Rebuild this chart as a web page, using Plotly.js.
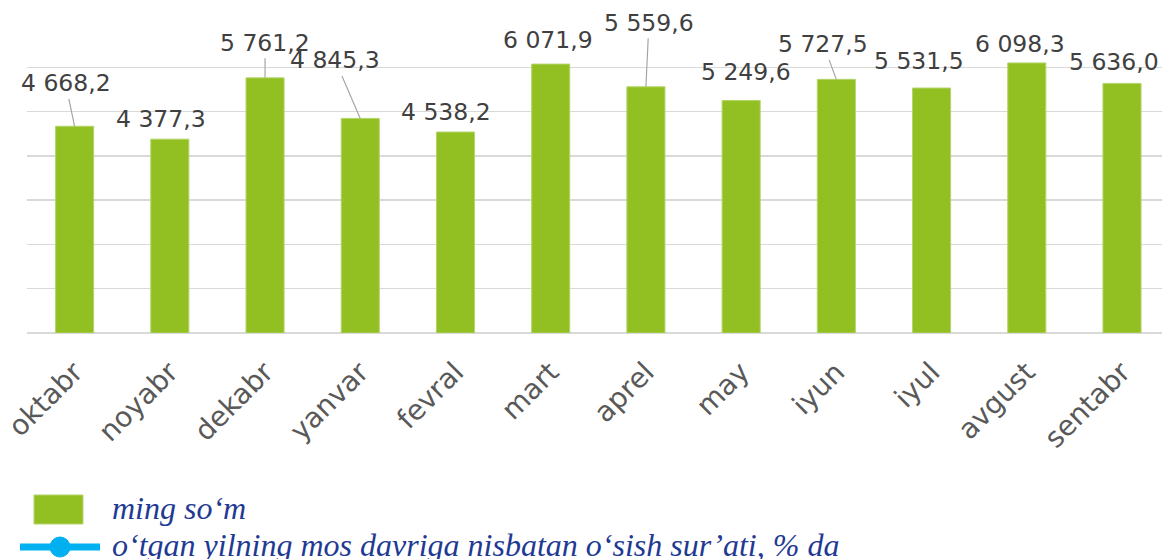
<!DOCTYPE html>
<html>
<head>
<meta charset="utf-8">
<script src="https://cdn.plot.ly/plotly-3.0.1.min.js"></script>
<style>html,body{margin:0;padding:0;overflow:hidden;background:#fff}</style>
</head>
<body>
<div id="chart" style="width:1162px;height:559px"></div>
<script>
// ---- data ----
const months = ["oktabr","noyabr","dekabr","yanvar","fevral","mart","aprel","may","iyun","iyul","avgust","sentabr"];
const amounts = [4668.2, 4377.3, 5761.2, 4845.3, 4538.2, 6071.9, 5559.6, 5249.6, 5727.5, 5531.5, 6098.3, 5636.0];
const valueLabels = ["4 668,2","4 377,3","5 761,2","4 845,3","4 538,2","6 071,9","5 559,6","5 249,6","5 727,5","5 531,5","6 098,3","5 636,0"];
const seriesNames = ["ming so‘m", "o‘tgan yilning mos davriga nisbatan o‘sish sur’ati, % da"];

// ---- label placement (pixel offsets from bar top) ----
const labelDX = [-9, -9, 0, -25, -9, -3, 3, 5, -13, -13, -7, -8];
const labelDY = [-43, -20, -35, -58, -20, -24, -64, -29, -35, -27, -19, -21];
const leader  = [true, false, true, true, false, false, true, false, true, false, false, false];

const W = 1162, H = 559;
const M = {l: 27, r: 0, t: 23, b: 226};
const plotW = W - M.l - M.r, plotH = H - M.t - M.b;
const px = x => (x - M.l) / plotW;
const py = y => (H - M.b - y) / plotH;

const bars = {
  type: 'bar',
  x: months,
  y: amounts,
  name: seriesNames[0],
  marker: {color: '#92C022', line: {color: '#B3D56A', width: 1}},
  showlegend: false,
  hoverinfo: 'x+y'
};

const annotations = months.map((m, i) => ({
  x: m, y: amounts[i], xref: 'x', yref: 'y',
  text: valueLabels[i],
  showarrow: true, arrowhead: 0, arrowwidth: 1.2,
  arrowcolor: leader[i] ? '#A6A6A6' : 'rgba(0,0,0,0)',
  ax: labelDX[i], ay: labelDY[i],
  font: {family: 'DejaVu Sans', size: 23.5, color: '#404040'}
}));

// custom legend
const legendFont = {family: 'Liberation Serif', size: 32, color: '#1F3A93', style: 'italic'};
annotations.push({
  xref: 'paper', yref: 'paper', x: px(110), y: py(508), xanchor: 'left', yanchor: 'middle',
  text: '<i>' + seriesNames[0] + '</i>', showarrow: false, font: legendFont
});
annotations.push({
  xref: 'paper', yref: 'paper', x: px(110), y: py(545), xanchor: 'left', yanchor: 'middle',
  text: '<i>' + seriesNames[1] + '</i>', showarrow: false, font: legendFont
});

const shapes = [
  {type: 'rect', xref: 'paper', yref: 'paper', x0: px(34), x1: px(83), y0: py(524), y1: py(495),
   fillcolor: '#92C022', line: {color: '#B3D56A', width: 1}},
  {type: 'line', xref: 'paper', yref: 'paper', x0: px(20), x1: px(100), y0: py(547), y1: py(547),
   line: {color: '#00B0F0', width: 7}},
  {type: 'circle', xref: 'paper', yref: 'paper', x0: px(50), x1: px(70), y0: py(557), y1: py(537),
   fillcolor: '#00B0F0', line: {color: '#00B0F0', width: 1}}
];

const layout = {
  width: W, height: H,
  margin: M,
  paper_bgcolor: '#fff', plot_bgcolor: '#fff',
  bargap: 0.6,
  showlegend: false,
  xaxis: {
    type: 'category',
    range: [-0.5, 11.42],
    showgrid: false, zeroline: false, showline: false,
    ticks: '',
    tickangle: -45,
    ticklabelstandoff: 16,
    tickfont: {family: 'DejaVu Sans', size: 28, color: '#595959'},
    fixedrange: true
  },
  yaxis: {
    range: [0, 7000],
    dtick: 1000,
    showticklabels: false,
    showgrid: true, gridcolor: '#D9D9D9', gridwidth: 1.5,
    zeroline: true, zerolinecolor: '#D9D9D9', zerolinewidth: 1.5,
    showline: false, ticks: '',
    fixedrange: true
  },
  annotations: annotations,
  shapes: shapes
};

Plotly.newPlot('chart', [bars], layout, {displayModeBar: false, staticPlot: true});
</script>
</body>
</html>
